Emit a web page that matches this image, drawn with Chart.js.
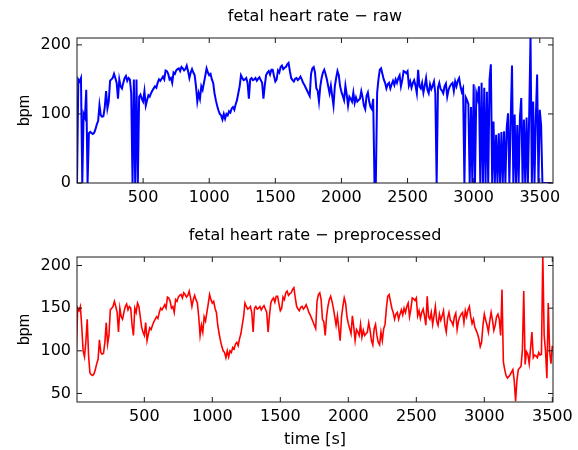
<!DOCTYPE html>
<html lang="en">

<head>
    <meta charset="UTF-8">
    <title>fetal heart rate</title>
    <script src="https://cdn.jsdelivr.net/npm/chart.js"></script>
    <style>
        body {
            margin: 0;
            background-color: #ffffff;
        }

        .panel {
            position: absolute;
            left: 0;
            width: 578px;
        }

        #rawPanel {
            top: 0;
            height: 215px;
        }

        #prepPanel {
            top: 215px;
            height: 235px;
        }
    </style>
</head>

<body>

    <div class="panel" id="rawPanel"><canvas id="rawChart"></canvas></div>
    <div class="panel" id="prepPanel"><canvas id="prepChart"></canvas></div>

    <script>
        // one sample every 10 s, first sample at t = 0
        const sampleStep = 10;

        // raw trace (bpm), 0 = signal loss
        const rawBpm = [
            0, 150, 147, 152, 0, 100, 95, 135, 0, 72,
            74, 72, 71, 73, 78, 85, 90, 113, 98, 96,
            97, 110, 133, 108, 118, 148, 150, 152, 158, 152,
            145, 122, 150, 140, 137, 145, 152, 155, 148, 152,
            150, 130, 0, 150, 0, 150, 0, 125, 128, 122,
            118, 133, 112, 120, 127, 125, 130, 134, 137, 140,
            138, 145, 150, 148, 151, 154, 150, 163, 162, 158,
            150, 152, 145, 160, 158, 163, 165, 166, 162, 168,
            166, 163, 165, 170, 162, 152, 160, 165, 160, 156,
            140, 118, 130, 122, 140, 135, 145, 155, 166, 160,
            156, 158, 150, 145, 130, 120, 112, 105, 100, 98,
            92, 100, 93, 100, 98, 104, 102, 108, 110, 106,
            114, 120, 130, 140, 156, 152, 149, 150, 152, 145,
            122, 150, 152, 149, 150, 152, 148, 151, 153, 149,
            145, 122, 141, 156, 160, 162, 157, 164, 164, 155,
            147, 150, 163, 160, 168, 170, 165, 167, 168, 172,
            174, 162, 152, 149, 147, 151, 152, 149, 151, 154,
            150, 145, 142, 138, 134, 130, 126, 158, 166, 168,
            160, 137, 134, 118, 140, 152, 160, 164, 158, 150,
            140, 130, 141, 126, 112, 140, 152, 162, 156, 140,
            132, 126, 120, 141, 128, 112, 125, 122, 118, 131,
            116, 124, 118, 120, 122, 133, 124, 112, 107, 126,
            131, 118, 110, 107, 122, 0, 0, 131, 150, 164,
            166, 158, 150, 145, 137, 143, 145, 137, 143, 148,
            142, 150, 145, 152, 156, 140, 149, 162, 161, 159,
            162, 141, 147, 138, 145, 149, 141, 130, 164, 140,
            137, 145, 131, 141, 152, 135, 130, 143, 136, 141,
            147, 130, 0, 138, 145, 136, 134, 130, 140, 144,
            125, 135, 140, 143, 145, 133, 147, 140, 148, 152,
            140, 132, 137, 0, 124, 120, 114, 0, 110, 0,
            143, 0, 130, 122, 140, 0, 145, 0, 138, 0,
            132, 0, 150, 172, 0, 89, 0, 70, 0, 72,
            0, 74, 0, 75, 0, 80, 101, 0, 90, 170,
            0, 99, 0, 84, 0, 96, 123, 0, 92, 0,
            95, 0, 99, 212, 0, 118, 0, 95, 157, 0,
            106, 84, 0, 0, 0, 0, 0, 0, 0, 0
        ];

        // preprocessed trace (bpm)
        const prepBpm = [
            100, 150, 147, 152, 128, 100, 93, 110, 137, 95,
            74, 72, 71, 73, 78, 85, 90, 113, 98, 96,
            97, 110, 133, 108, 118, 148, 150, 152, 158, 152,
            145, 122, 150, 140, 137, 145, 152, 155, 148, 152,
            150, 130, 118, 150, 145, 156, 152, 140, 128, 122,
            118, 133, 112, 120, 127, 125, 130, 134, 137, 140,
            138, 145, 150, 148, 151, 154, 150, 163, 162, 158,
            150, 152, 145, 160, 158, 163, 165, 166, 162, 168,
            166, 163, 165, 170, 162, 152, 160, 165, 160, 156,
            140, 118, 130, 122, 140, 135, 145, 155, 166, 160,
            156, 158, 150, 145, 130, 120, 112, 105, 100, 98,
            92, 100, 93, 100, 98, 104, 102, 108, 110, 106,
            114, 120, 130, 140, 156, 152, 149, 150, 152, 145,
            122, 150, 152, 149, 150, 152, 148, 151, 153, 149,
            145, 122, 141, 156, 160, 162, 157, 164, 164, 155,
            147, 150, 163, 160, 168, 170, 165, 167, 168, 172,
            174, 162, 152, 149, 147, 151, 152, 149, 151, 154,
            150, 145, 142, 138, 134, 130, 126, 158, 166, 168,
            160, 137, 134, 118, 140, 152, 160, 164, 158, 150,
            140, 130, 141, 126, 112, 140, 152, 162, 156, 140,
            132, 126, 120, 141, 128, 112, 125, 122, 118, 131,
            116, 124, 118, 120, 122, 133, 124, 112, 107, 126,
            131, 118, 110, 107, 122, 112, 126, 131, 150, 164,
            166, 158, 150, 145, 137, 143, 145, 137, 143, 148,
            142, 150, 145, 152, 156, 140, 149, 162, 161, 159,
            162, 141, 147, 138, 145, 149, 141, 130, 164, 140,
            137, 145, 131, 141, 152, 135, 130, 143, 136, 141,
            147, 130, 122, 138, 145, 136, 134, 130, 140, 144,
            125, 135, 140, 143, 145, 133, 147, 140, 148, 152,
            140, 132, 137, 128, 124, 120, 114, 105, 110, 130,
            143, 136, 130, 122, 135, 145, 136, 124, 130, 140,
            143, 137, 118, 172, 87, 78, 71, 68, 70, 72,
            75, 78, 65, 41, 66, 78, 80, 82, 101, 170,
            84, 99, 96, 85, 103, 122, 92, 95, 94, 92,
            98, 95, 96, 212, 118, 100, 68, 156, 100, 85,
            106
        ];

        const timeTicks = [500, 1000, 1500, 2000, 2500, 3000, 3500];
        const rawTicks = [0, 100, 200];
        const prepTicks = [50, 100, 150, 200];

        const textFont = { family: 'DejaVu Sans', size: 16, weight: 'normal' };

        // matlab style box with inward tick marks
        const axesBox = {
            id: 'axesBox',
            afterDatasetsDraw(chart) {
                const { ctx, chartArea: a, scales: { x, y } } = chart;
                ctx.save();
                ctx.strokeStyle = '#1a1a1a';
                ctx.lineWidth = 1;
                ctx.strokeRect(a.left, a.top, a.right - a.left, a.bottom - a.top);
                ctx.beginPath();
                x.ticks.forEach(t => {
                    const px = x.getPixelForValue(t.value);
                    ctx.moveTo(px, a.bottom);
                    ctx.lineTo(px, a.bottom - 5);
                    ctx.moveTo(px, a.top);
                    ctx.lineTo(px, a.top + 5);
                });
                y.ticks.forEach(t => {
                    const py = y.getPixelForValue(t.value);
                    ctx.moveTo(a.left, py);
                    ctx.lineTo(a.left + 5, py);
                    ctx.moveTo(a.right, py);
                    ctx.lineTo(a.right - 5, py);
                });
                ctx.stroke();
                ctx.restore();
            }
        };

        function toPoints(values) {
            return values.map((v, i) => ({ x: i * sampleStep, y: v }));
        }

        function makeChart(canvasId, cfg) {
            return new Chart(document.getElementById(canvasId), {
                type: 'line',
                data: {
                    datasets: [{
                        data: toPoints(cfg.values),
                        borderColor: cfg.color,
                        borderWidth: cfg.lineWidth,
                        pointRadius: 0,
                        tension: 0
                    }]
                },
                options: {
                    responsive: true,
                    maintainAspectRatio: false,
                    animation: false,
                    events: [],
                    layout: { padding: { left: 0, right: 25, top: 0, bottom: 0 } },
                    plugins: {
                        legend: { display: false },
                        tooltip: { enabled: false },
                        title: {
                            display: true,
                            text: cfg.title,
                            color: '#000',
                            font: textFont,
                            fullSize: false,
                            padding: cfg.titlePadding
                        }
                    },
                    scales: {
                        x: {
                            type: 'linear',
                            min: cfg.xMin,
                            max: cfg.xMax,
                            grid: { display: false, drawTicks: false, tickLength: 0 },
                            border: { display: false },
                            afterBuildTicks: s => { s.ticks = timeTicks.map(v => ({ value: v })); },
                            afterFit: s => { s.height = cfg.xHeight; },
                            ticks: {
                                color: '#000',
                                font: textFont,
                                padding: 5,
                                maxRotation: 0,
                                autoSkip: false,
                                callback: v => String(v)
                            },
                            title: {
                                display: !!cfg.xTitle,
                                text: cfg.xTitle,
                                color: '#000',
                                font: textFont,
                                padding: { top: 0, bottom: 1 }
                            }
                        },
                        y: {
                            min: cfg.yMin,
                            max: 210,
                            grid: { display: false, drawTicks: false, tickLength: 0 },
                            border: { display: false },
                            afterBuildTicks: s => { s.ticks = cfg.yTicks.map(v => ({ value: v })); },
                            afterFit: s => { s.width = 77; },
                            ticks: {
                                color: '#000',
                                font: textFont,
                                padding: 6,
                                callback: v => String(v)
                            },
                            title: {
                                display: true,
                                text: 'bpm',
                                color: '#000',
                                font: { family: 'Liberation Sans', size: 16, weight: 'normal' },
                                padding: { top: 15, bottom: 0 }
                            }
                        }
                    }
                },
                plugins: [axesBox]
            });
        }

        makeChart('rawChart', {
            values: rawBpm,
            color: '#0000ff',
            lineWidth: 2,
            title: 'fetal heart rate \u2212 raw',
            titlePadding: { top: 7, bottom: 11.8 },
            xMin: 0,
            xMax: 3600,
            xHeight: 32,
            yMin: 0,
            yTicks: rawTicks
        });

        makeChart('prepChart', {
            values: prepBpm,
            color: '#ff0000',
            lineWidth: 1.6,
            title: 'fetal heart rate \u2212 preprocessed',
            titlePadding: { top: 11, bottom: 11.8 },
            xMin: 5,
            xMax: 3505,
            xHeight: 48,
            xTitle: 'time [s]',
            yMin: 40,
            yTicks: prepTicks
        });
    </script>

</body>

</html>
